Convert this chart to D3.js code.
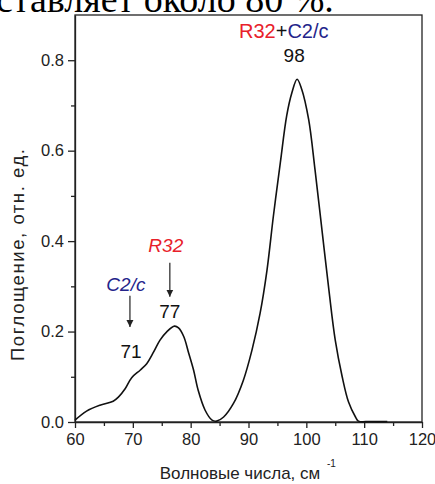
<!DOCTYPE html>
<html>
<head>
<meta charset="utf-8">
<script src="https://cdn.jsdelivr.net/npm/d3@7"></script>
<style>
  body { margin: 0; background: #fff; }
  svg { display: block; }
  text { font-family: "Liberation Sans", Arial, sans-serif; }
  text.page { font-family: "Liberation Serif", "Times New Roman", serif; }
</style>
</head>
<body>
<div id="chart"></div>
<script>
// spectrum
var waveNumbers = [60, 62, 64.3, 66.6, 67.5, 68.7, 69.8, 71.3, 72.4, 73.6, 74.7, 75.9, 77.2, 77.9, 78.8, 79.6, 80.5, 81.3, 82.5, 83.7, 84.5, 85.7, 87.4, 89.1, 90.6, 92, 93.2, 94.3, 95.5, 96.6, 97.5, 98.4, 99.2, 100.4, 101.5, 102.7, 103.9, 105, 106.2, 107.3, 108.5, 109, 111, 114];
var absorbance = [0.004, 0.024, 0.037, 0.046, 0.055, 0.074, 0.098, 0.115, 0.129, 0.155, 0.181, 0.2, 0.212, 0.208, 0.189, 0.155, 0.115, 0.07, 0.026, 0.004, 0.002, 0.011, 0.041, 0.092, 0.159, 0.24, 0.336, 0.455, 0.573, 0.677, 0.728, 0.758, 0.736, 0.669, 0.558, 0.425, 0.292, 0.181, 0.1, 0.044, 0.011, 0.002, 0.001, 0.001];

var xTicks = [60, 70, 80, 90, 100, 110, 120];
var xMinor = [65, 75, 85, 95, 105, 115];
var yTicks = [0, 0.2, 0.4, 0.6, 0.8];
var yMinor = [0.1, 0.3, 0.5, 0.7];

var peaks = ["71", "77", "98"];

var width = 435, height = 484;
var margin = {top: 15, right: 13, bottom: 62, left: 75};

var svg = d3.select("#chart").append("svg")
    .attr("width", width)
    .attr("height", height);

// cut-off line of the page text above the figure
svg.append("text")
    .attr("class", "page")
    .attr("x", -4)
    .attr("y", 12)
    .attr("font-size", 38)
    .attr("fill", "#000")
    .text("ставляет около 80 %.");

var x = d3.scaleLinear().domain([60, 120]).range([margin.left, width - margin.right]);
var y = d3.scaleLinear().domain([0, 0.9]).range([height - margin.bottom, margin.top]);

var fmt = d3.format(".1f");

// axes
svg.append("g")
    .attr("transform", "translate(0," + y(0) + ")")
    .call(d3.axisBottom(x).tickValues(xTicks).tickSize(6).tickPadding(5).tickSizeOuter(0));
svg.append("g")
    .attr("transform", "translate(" + x(60) + ",0)")
    .call(d3.axisLeft(y).tickValues(yTicks).tickFormat(fmt).tickSize(7).tickPadding(4).tickSizeOuter(0));

svg.append("g")
    .attr("transform", "translate(0," + y(0) + ")")
    .call(d3.axisBottom(x).tickValues(xMinor).tickSize(4).tickFormat("").tickSizeOuter(0))
    .select(".domain").remove();
svg.append("g")
    .attr("transform", "translate(" + x(60) + ",0)")
    .call(d3.axisLeft(y).tickValues(yMinor).tickSize(4).tickFormat("").tickSizeOuter(0))
    .select(".domain").remove();

svg.selectAll(".tick line").attr("stroke", "#222").attr("stroke-width", 1.3);
svg.selectAll(".domain").attr("stroke", "#222").attr("stroke-width", 1.3);
svg.selectAll(".tick text").attr("font-size", 16.5).attr("fill", "#222");

// frame
svg.append("rect")
    .attr("x", x(60))
    .attr("y", y(0.9))
    .attr("width", x(120) - x(60))
    .attr("height", y(0) - y(0.9))
    .attr("fill", "none")
    .attr("stroke", "#222")
    .attr("stroke-width", 1.3);

// curve
var line = d3.line()
    .x(function(d, i) { return x(waveNumbers[i]); })
    .y(function(d) { return y(d); })
    .curve(d3.curveCatmullRom);

svg.append("path")
    .datum(absorbance)
    .attr("d", line)
    .attr("fill", "none")
    .attr("stroke", "#111")
    .attr("stroke-width", 1.6);

// annotations
svg.append("defs").append("marker")
    .attr("id", "head")
    .attr("viewBox", "0 0 10 10")
    .attr("refX", 10).attr("refY", 5)
    .attr("markerWidth", 7).attr("markerHeight", 9)
    .attr("markerUnits", "userSpaceOnUse")
    .attr("orient", "auto")
    .append("path")
    .attr("d", "M0,0L10,5L0,10Z")
    .attr("fill", "#222");

function arrow(xv, y1, y2) {
  svg.append("line")
      .attr("x1", x(xv)).attr("x2", x(xv))
      .attr("y1", y(y1)).attr("y2", y(y2))
      .attr("stroke", "#222")
      .attr("stroke-width", 1.2)
      .attr("marker-end", "url(#head)");
}
arrow(69.5, 0.279, 0.21);
arrow(76.4, 0.352, 0.277);

function label(xv, yv, parts, size) {
  var t = svg.append("text")
      .attr("x", x(xv))
      .attr("y", y(yv))
      .attr("text-anchor", "middle")
      .attr("font-size", size);
  parts.forEach(function(p) {
    t.append("tspan")
        .attr("fill", p.color)
        .attr("font-style", p.italic ? "italic" : "normal")
        .text(p.text);
  });
}

label(96.1, 0.849, [
  {text: "R32", color: "#e8202a"},
  {text: "+", color: "#111"},
  {text: "C2/c", color: "#24248a"}
], 20);
label(97.9, 0.795, [{text: peaks[2], color: "#111"}], 19);
label(75.7, 0.376, [{text: "R32", color: "#e8202a", italic: true}], 19);
label(76.4, 0.23, [{text: peaks[1], color: "#111"}], 19);
label(68.8, 0.29, [{text: "C2/c", color: "#24248a", italic: true}], 19);
label(69.7, 0.141, [{text: peaks[0], color: "#111"}], 19);

// axis titles
svg.append("text")
    .attr("x", 240)
    .attr("y", 479)
    .attr("text-anchor", "middle")
    .attr("font-size", 17)
    .attr("fill", "#222")
    .text("Волновые числа, см");
svg.append("text")
    .attr("x", 327)
    .attr("y", 467)
    .attr("font-size", 10)
    .attr("fill", "#222")
    .text("-1");

svg.append("text")
    .attr("transform", "translate(24,255) rotate(-90)")
    .attr("text-anchor", "middle")
    .attr("font-size", 18.5)
    .attr("textLength", 212)
    .attr("lengthAdjust", "spacing")
    .attr("fill", "#222")
    .text("Поглощение, отн. ед.");
</script>
</body>
</html>
